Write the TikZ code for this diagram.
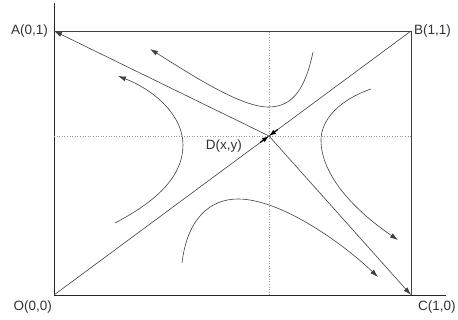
\documentclass[tikz,border=0pt]{standalone}
\usepackage{fontspec}
\setmainfont{Liberation Sans}
\usetikzlibrary{arrows.meta, positioning, calc}
\tikzset{
  axis/.style={
    draw=black!85,
    line width=0.7pt
  },
  edge/.style={
    draw=black!75,
    line width=0.6pt
  },
  flow/.style={
    edge,
    -{Latex[length=8pt,width=5pt]}
  },
  guide/.style={
    draw=black!40,
    dotted,
    line width=0.6pt
  },
  point/.style={
    font=\fontsize{13.5}{15}\selectfont,
    text=black!80,
    inner sep=2pt
  }
}

\begin{document}
\begin{tikzpicture}[x=1pt, y=1pt]
\useasboundingbox (-54,-25) rectangle (404,295);

% points
\coordinate (O) at (0,0);
\coordinate (A) at (0,264);
\coordinate (B) at (357,264);
\coordinate (C) at (357,0);
\coordinate (D) at (215,159);
\coordinate (ytop) at (0,292);
\coordinate (xend) at (392,0);

% axes et cadre
\draw[axis] (ytop) -- (O) -- (xend);
\draw[edge] (A) -- (B) -- (C);

% pointilles
\draw[guide] (D -| O) -- (D -| B);
\draw[guide] (D |- O) -- (D |- B);

% diagonale et separatrice
\draw[edge] (O) -- (B);
\draw[flow] (D) -- (A);
\draw[flow] (D) -- (C);
\draw[flow, draw=black, line width=1.2pt, -{Latex[length=7pt,width=5pt]}] ($(D)!11pt!(O)$) -- (D);
\draw[flow, draw=black, line width=1.2pt, -{Latex[length=7pt,width=5pt]}] ($(D)!11pt!(B)$) -- (D);

% trajectoires
\draw[flow] (259,243) .. controls (250,200) and (235,188) .. (214,188)
  .. controls (185,188) and (130,225) .. (96,246);
\draw[flow] (61,72) .. controls (105,95) and (129,120) .. (129,150)
  .. controls (129,180) and (100,205) .. (64,219);
\draw[flow] (317,206) .. controls (285,195) and (267,175) .. (267,155)
  .. controls (267,120) and (300,85) .. (344,55);
\draw[flow] (128,32) .. controls (133,75) and (155,96) .. (184,96)
  .. controls (225,96) and (285,55) .. (324,18);

% etiquettes
\node[point, left=4pt of A] (lA) {A(0,1)};
\node[point, right=1pt of B] (lB) {B(1,1)};
\node[point, below left=4pt and 0pt of O] (lO) {O(0,0)};
\node[point, below right=4pt and 5pt of C] (lC) {C(1,0)};
\node[point, below left=2pt and 25pt of D] (lD) {D(x,y)};
\end{tikzpicture}
\end{document}
